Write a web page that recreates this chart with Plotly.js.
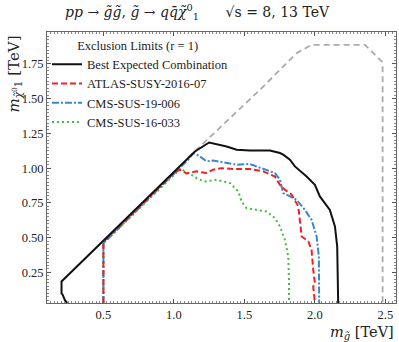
<!DOCTYPE html>
<html>
<head>
<meta charset="utf-8">
<script src="https://cdn.plot.ly/plotly-3.0.1.min.js"></script>
<style>
  html, body { margin: 0; padding: 0; background: #fff; }
  #chart { width: 399px; height: 342px; }
</style>
</head>
<body>
<div id="chart"></div>
<script>
// gluino / neutralino exclusion contours (TeV)
const bestX = [0.243, 0.227, 0.211, 0.203, 0.203, 0.5, 0.995, 1.149, 1.25, 1.29, 1.374, 1.445, 1.539, 1.681, 1.752, 1.775, 1.823, 1.858, 1.941, 2.0, 2.035, 2.106, 2.142, 2.158, 2.16, 2.165];
const bestY = [0.03, 0.05, 0.09, 0.10, 0.185, 0.478, 0.965, 1.12, 1.185, 1.176, 1.156, 1.133, 1.128, 1.128, 1.109, 1.097, 1.061, 1.013, 0.94, 0.88, 0.797, 0.70, 0.581, 0.437, 0.27, 0.03];

const atlasX = [0.5, 0.5, 1.0, 1.043, 1.09, 1.16, 1.23, 1.279, 1.338, 1.42, 1.539, 1.633, 1.716, 1.752, 1.787, 1.835, 1.882, 1.894, 1.906, 1.953, 1.976, 1.988, 2.0, 1.988, 2.0];
const atlasY = [0.03, 0.47, 0.965, 0.989, 0.962, 0.977, 0.965, 0.989, 1.0, 0.994, 0.994, 0.977, 0.94, 0.88, 0.845, 0.81, 0.725, 0.629, 0.509, 0.473, 0.413, 0.27, 0.174, 0.149, 0.03];

const cms19X = [0.5, 0.5, 1.1, 1.14, 1.184, 1.23, 1.279, 1.374, 1.445, 1.539, 1.633, 1.716, 1.752, 1.775, 1.823, 1.87, 1.929, 1.976, 2.012, 2.028, 2.03];
const cms19Y = [0.03, 0.46, 1.06, 1.11, 1.085, 1.05, 1.055, 1.037, 1.025, 1.03, 0.994, 0.965, 0.917, 0.821, 0.797, 0.773, 0.70, 0.629, 0.509, 0.365, 0.03];

const cms16X = [0.5, 0.5, 1.05, 1.08, 1.137, 1.172, 1.22, 1.303, 1.397, 1.456, 1.48, 1.515, 1.586, 1.657, 1.716, 1.752, 1.787, 1.811, 1.816, 1.816];
const cms16Y = [0.03, 0.46, 1.0, 0.975, 0.945, 0.92, 0.905, 0.917, 0.893, 0.833, 0.76, 0.713, 0.70, 0.689, 0.641, 0.581, 0.485, 0.365, 0.197, 0.03];

// grey dashed: boundary of the scanned region
const gridX = [1.1, 1.385, 1.61, 1.87, 1.977, 2.355, 2.48, 2.48];
const gridY = [1.075, 1.349, 1.564, 1.828, 1.888, 1.888, 1.761, 0.03];

const xTicks = [0.5, 1.0, 1.5, 2.0, 2.5];
const yTicks = [0.25, 0.5, 0.75, 1.0, 1.25, 1.5, 1.75];

const serif = 'Liberation Serif, DejaVu Serif, serif';
const mathSerif = 'DejaVu Serif, serif';

// drawn in reverse so the black combination sits on top of the coloured ones
const traces = [
    { x: gridX, y: gridY, type: 'scatter', mode: 'lines', showlegend: false,
      line: { color: '#aaaaaa', width: 1.8, dash: '6px,4px' }, hoverinfo: 'skip' },
    { x: cms16X, y: cms16Y, type: 'scatter', mode: 'lines', name: 'CMS-SUS-16-033', legendrank: 4,
      line: { color: '#44bb44', width: 2, dash: '2px,3px' } },
    { x: cms19X, y: cms19Y, type: 'scatter', mode: 'lines', name: 'CMS-SUS-19-006', legendrank: 3,
      line: { color: '#3a88c8', width: 2, dash: '7px,2px,2px,2px' } },
    { x: atlasX, y: atlasY, type: 'scatter', mode: 'lines', name: 'ATLAS-SUSY-2016-07', legendrank: 2,
      line: { color: '#ee2222', width: 2, dash: '6px,3px' } },
    { x: bestX, y: bestY, type: 'scatter', mode: 'lines', name: 'Best Expected Combination', legendrank: 1,
      line: { color: '#111111', width: 2 } }
];

const axisCommon = {
    showgrid: false, zeroline: false,
    showline: true, linecolor: '#666', linewidth: 1, mirror: 'ticks',
    ticks: 'inside', ticklen: 4, tickcolor: '#555',
    tickfont: { family: serif, size: 12.5, color: '#222' },
    minor: { ticks: 'inside', ticklen: 2, tickcolor: '#888', dtick: 0.025 }
};

const pad = '\u00a0'.repeat(9);

const layout = {
    width: 399, height: 342,
    margin: { l: 47, r: 3, t: 32, b: 39 },
    paper_bgcolor: '#fff', plot_bgcolor: '#fff',
    font: { family: serif, color: '#222' },
    showlegend: true,
    legend: {
        x: 0.0, y: 0.995, xanchor: 'left', yanchor: 'top',
        bgcolor: 'rgba(0,0,0,0)',
        font: { family: serif, size: 12.5, color: '#222' },
        title: { text: pad + 'Exclusion Limits (r = 1)', side: 'top', font: { family: serif, size: 12.5 } },
        itemwidth: 30, tracegroupgap: 0, traceorder: 'normal'
    },
    xaxis: Object.assign({}, axisCommon, {
        range: [0.1, 2.575], tickvals: xTicks, tickformat: '.1f'
    }),
    yaxis: Object.assign({}, axisCommon, {
        range: [0.03, 1.98], tickvals: yTicks, tickformat: '.2f'
    }),
    annotations: [
        { text: '<i>pp</i> → <i>g̃g̃</i>, <i>g̃</i> → <i>qq̄χ̃</i><sup>0</sup><sub>1</sub>      √s = 8, 13 TeV',
          xref: 'paper', yref: 'paper', x: 0.5, xshift: -24, y: 1.0, yshift: 20, xanchor: 'center', yanchor: 'middle',
          showarrow: false, font: { family: mathSerif, size: 14, color: '#222' } },
        { text: '<i>m</i><sub><i>χ̃</i><sup>0</sup>1</sub> [TeV]',
          xref: 'paper', yref: 'paper', x: 0, xshift: -33, y: 1.0, yshift: -2, xanchor: 'center', yanchor: 'top',
          textangle: -90, showarrow: false, font: { family: mathSerif, size: 15, color: '#222' } },
        { text: '<i>m</i><sub><i>g̃</i></sub> [TeV]',
          xref: 'paper', yref: 'paper', x: 1.0, y: 0, yshift: -30, xanchor: 'right', yanchor: 'middle',
          showarrow: false, font: { family: mathSerif, size: 14.5, color: '#222' } }
    ]
};

Plotly.newPlot('chart', traces, layout, { staticPlot: true, displayModeBar: false });
</script>
</body>
</html>
